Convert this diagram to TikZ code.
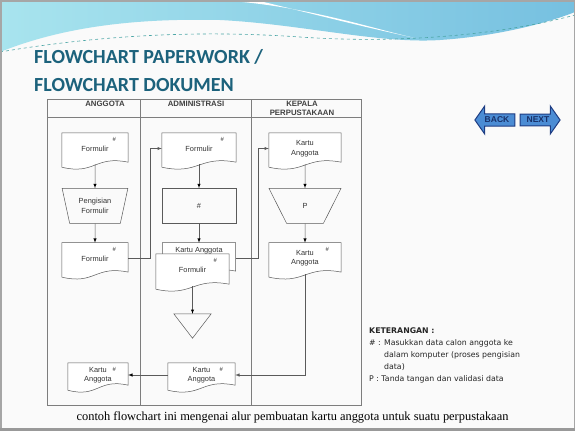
\documentclass[tikz,border=0pt]{standalone}
\usepackage{fontspec}
\setmainfont{Liberation Sans}
\newfontfamily\titlefont{Carlito}
\newfontfamily\notefont{DejaVu Sans}
\newfontfamily\capfont{Liberation Serif}
\usetikzlibrary{arrows, positioning, shapes.geometric, shapes.arrows}
\definecolor{judul}{RGB}{28,98,124}
\definecolor{langit}{RGB}{168,228,238}
\definecolor{laut}{RGB}{118,192,224}
\definecolor{garis}{RGB}{90,90,90}
\definecolor{bingkai}{RGB}{125,125,125}
\definecolor{tombol}{RGB}{75,140,212}
\definecolor{tepi}{RGB}{30,60,130}
\pgfdeclarelayer{slide}
\pgfdeclarelayer{docs}
\pgfsetlayers{slide,docs,main}

\begin{document}
\begin{tikzpicture}[x=1pt,y=1pt,>=latex,
  line/.style={draw=garis,line width=0.5pt},
  lbl/.style={font=\fontsize{7.4}{9.5}\selectfont,text=black!80},
  hash/.style={label={[font=\fontsize{6}{7}\selectfont,text=black!80,anchor=center,xshift=-14pt,yshift=-7pt]north east:\#}},
  doc node/.style={lbl,align=center,inner sep=0pt,minimum height=31pt,
    append after command={\pgfextra{\let\docnode\tikzlastnode
      \begin{pgfonlayer}{docs}
      \draw[line,fill=white] (\docnode.north west) -- (\docnode.north east)
        -- ([yshift=2pt]\docnode.south east)
        .. controls ([yshift=9pt]\docnode.south) and ([yshift=-11pt]\docnode.south)
        .. ([yshift=-3pt]\docnode.south west) -- cycle;
      \end{pgfonlayer}}}},
  manual node/.style={trapezium,shape border rotate=180,trapezium stretches=true,
    line,lbl,align=center,inner sep=0pt,minimum height=35pt},
  proc node/.style={rectangle,line,lbl,minimum width=74pt,minimum height=35pt},
  arsip node/.style={inner sep=0pt,minimum width=37pt,minimum height=24pt,
    append after command={\pgfextra{\let\arsnode\tikzlastnode
      \draw[line] (\arsnode.north west) -- (\arsnode.north east) -- (\arsnode.south) -- cycle;}}},
  head text/.style={font=\fontsize{7.8}{9.5}\selectfont\bfseries,text=black!75,
    anchor=north,align=center,inner sep=0pt},
  button/.style={single arrow,draw=tepi,fill=tombol,line width=1pt,text=tepi!80!black,
    font=\fontsize{8.5}{10}\selectfont\bfseries,inner xsep=1pt,inner ysep=2.5pt,
    single arrow head extend=8pt,single arrow tip angle=110,minimum height=40pt}]

  \useasboundingbox (0,0) rectangle (575,-431);
  \begin{pgfonlayer}{slide}
    \fill[black!2] (0,0) rectangle (575,-431);
    \shade[left color=langit,right color=laut] (0,0) -- (575,0) -- (575,-12)
      .. controls (550,-22) and (500,-36) .. (440,-40)
      .. controls (380,-44) and (300,-24) .. (220,-20)
      .. controls (130,-18) and (60,-28) .. (0,-52) -- cycle;
    \fill[white] (215,0) .. controls (300,-4) and (370,-28) .. (415,-38)
      .. controls (350,-24) and (290,-8) .. (255,0) -- cycle;
    \draw[dashed,teal!70,line width=.6pt] (0,-52) .. controls (100,-35) and (200,-30) .. (300,-37)
      .. controls (400,-44) and (500,-35) .. (575,-15);
    \draw[black!35,line width=1.5pt] (0.75,-0.75) rectangle (574.25,-430.25);
    \fill[black!40] (0,-428) rectangle (575,-431);
  \end{pgfonlayer}

  \node[font=\titlefont\bfseries\fontsize{20}{24}\selectfont,text=judul,anchor=base west,inner sep=0pt] (judul1) at (34,-63) {FLOWCHART PAPERWORK /};
  \node[font=\titlefont\bfseries\fontsize{20}{24}\selectfont,text=judul,anchor=base west,inner sep=0pt] (judul2) at (34,-91) {FLOWCHART DOKUMEN};

  \node[button,shape border rotate=180] (back) at (497,-120) {BACK};
  \node[button] (next) at (538,-120) {NEXT};

  \draw[draw=bingkai,line width=.6pt] (47,-99) rectangle (361,-405);
  \draw[draw=bingkai,line width=.6pt] (47,-117) -- (361,-117)
    (140,-99) -- (140,-405) (251,-99) -- (251,-405);
  \node[head text] (h1) at (105,-100.5) {ANGGOTA};
  \node[head text] (h2) at (196,-100.5) {ADMINISTRASI};
  \node[head text] (h3) at (302,-100.5) {KEPALA\\PERPUSTAKAAN};

  \node[doc node,hash,minimum width=66pt] (f1) at (95,-148.5) {Formulir};
  \node[manual node,trapezium angle=72,minimum width=66pt] (isi) [below=24pt of f1] {Pengisian\\Formulir};
  \node[doc node,hash,minimum width=66pt] (f2) [below=19pt of isi] {Formulir};
  \node[doc node,hash,minimum width=60pt,minimum height=24pt] (ka) at (98,-375) {Kartu\\Anggota};

  \node[doc node,hash,minimum width=74pt] (af) at (199,-148.5) {Formulir};
  \node[proc node] (ar) [below=24pt of af] {\#};
  \node[doc node,minimum width=73pt,minimum height=30pt,
    label={[lbl,anchor=north,yshift=-1.5pt]north:Kartu Anggota}] (kb) [below=19pt of ar] {};
  \node[doc node,hash,minimum width=73pt,minimum height=32pt] (ff) at (192.5,-270) {Formulir};
  \node[arsip node] (arsip) at (192.5,-326) {};
  \node[doc node,hash,minimum width=67pt,minimum height=24pt] (kr) at (201.5,-375) {Kartu\\Anggota};

  \node[doc node,minimum width=72pt] (kf) at (305,-148.5) {Kartu\\Anggota};
  \node[manual node,trapezium angle=65,minimum width=72pt] (p) [below=24pt of kf] {P};
  \node[doc node,hash,minimum width=72pt] (kd) [below=19pt of p] {Kartu\\Anggota};

  \path[line,->]
    (f1) edge (isi)
    (isi) edge (f2)
    (af) edge (ar)
    (ar) edge (kb)
    (kf) edge (p)
    (p) edge (kd)
    (ff) edge (arsip)
    (kr) edge (ka);
  \draw[line,->] (f2.east) -- ++(22,0) |- (af.west);
  \draw[line,->] (kb.east) -- ++(23,0) |- (kf.west);
  \draw[line,->] (kd.south) |- (kr.east);

  \node[font=\notefont\fontsize{7.8}{12}\selectfont,anchor=north west,align=left,inner sep=0pt,text=black!85] (ket) at (369,-328)
    {\textbf{KETERANGAN :}\\\# : Masukkan data calon anggota ke\\\hspace*{15pt}dalam komputer (proses pengisian\\\hspace*{15pt}data)\\P : Tanda tangan dan validasi data};
  \node[font=\capfont\fontsize{12.4}{14}\selectfont,anchor=base] (cap) at (292.5,-420)
    {contoh flowchart ini mengenai alur pembuatan kartu anggota untuk suatu perpustakaan};
\end{tikzpicture}
\end{document}
